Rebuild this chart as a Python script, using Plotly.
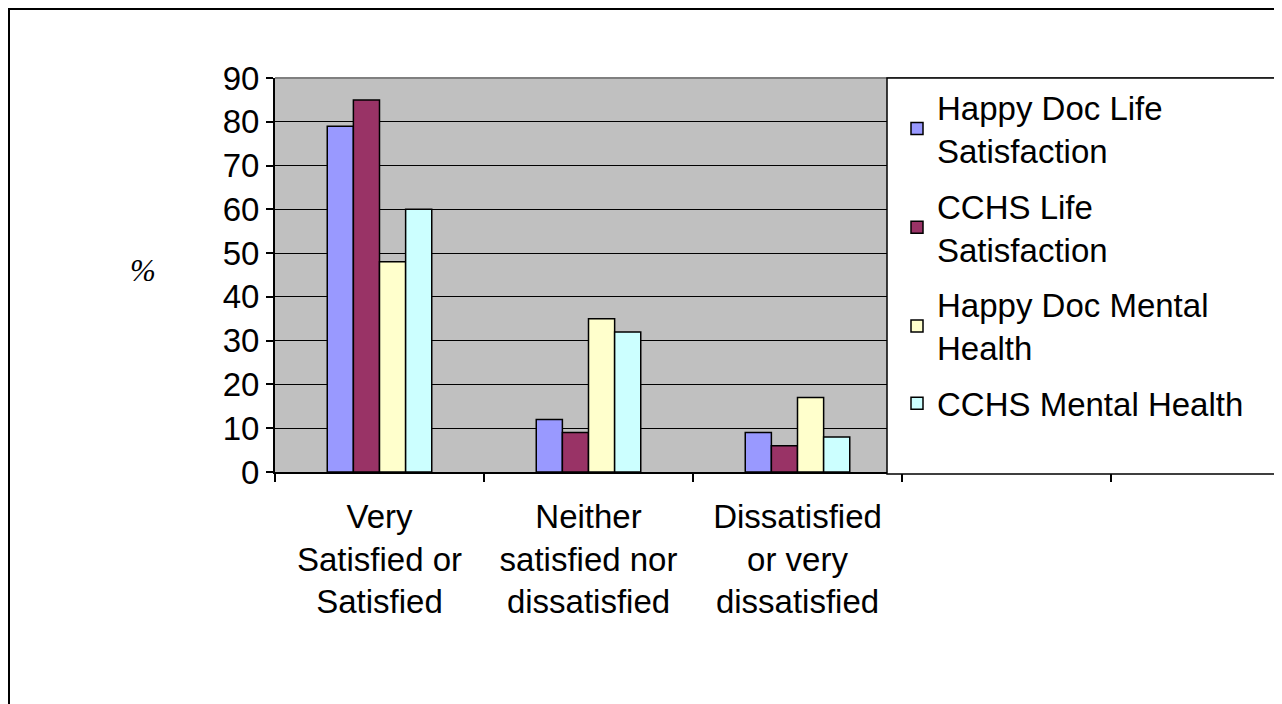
import plotly.graph_objects as go

categories = ["Very<br>Satisfied or<br>Satisfied",
              "Neither<br>satisfied nor<br>dissatisfied",
              "Dissatisfied<br>or very<br>dissatisfied"]
empty_slots = [" ", "  "]
series_names = ["Happy Doc Life<br>Satisfaction",
                "CCHS Life<br>Satisfaction",
                "Happy Doc Mental<br>Health",
                "CCHS Mental Health"]
series_values = [
    [79, 12, 9],
    [85, 9, 6],
    [48, 35, 17],
    [60, 32, 8],
]
series_colors = ["#9999FF", "#993366", "#FFFFCC", "#CCFFFF"]
y_ticks = [0, 10, 20, 30, 40, 50, 60, 70, 80, 90]

# page is offset by the 8px body margin
OFF = 8
W, H = 1274, 696
L, R, T, B = 267, 0, 70, 232
pw = W - L - R
ph = H - T - B


def px2x(px):
    return (px - OFF - L) / pw


def px2y(py):
    return (H - B - (py - OFF)) / ph


FONT = "Arial, Liberation Sans, sans-serif"

fig = go.Figure()
for i, (name, vals, col) in enumerate(zip(series_names, series_values, series_colors)):
    fig.add_trace(go.Bar(x=categories, y=vals, name=name, legendgroup=f"g{i}",
                         marker=dict(color=col, line=dict(color="black", width=1.5))))

fig.update_layout(
    width=W, height=H,
    margin=dict(l=L, r=R, t=T, b=B),
    paper_bgcolor="white",
    plot_bgcolor="#C0C0C0",
    barmode="group", bargap=0.5, bargroupgap=0,
    font=dict(family=FONT, size=33, color="black"),
    showlegend=True,
    legend=dict(x=px2x(897), y=px2y(79), xanchor="left", yanchor="top",
                bgcolor="rgba(0,0,0,0)", borderwidth=0,
                font=dict(family=FONT, size=33, color="black"),
                traceorder="grouped", tracegroupgap=10),
)

fig.update_xaxes(
    type="category", categoryorder="array",
    categoryarray=categories + empty_slots,
    range=[-0.5, -0.5 + pw / 209],
    tickson="boundaries", ticks="outside", ticklen=8, tickwidth=2, tickcolor="black",
    showline=True, linecolor="black", linewidth=2,
    showgrid=False, zeroline=False,
    tickfont=dict(family=FONT, size=33, color="black"),
    ticklabelstandoff=14,
)
fig.update_yaxes(
    range=[0, 90], tickvals=y_ticks,
    ticks="outside", ticklen=7, tickwidth=2, tickcolor="black",
    showline=True, linecolor="black", linewidth=2,
    showgrid=True, gridcolor="black", gridwidth=1.2,
    zeroline=False,
    tickfont=dict(family=FONT, size=33, color="black"),
)

# plot-area top border
fig.add_shape(type="line", xref="paper", yref="paper", x0=0, x1=1, y0=1, y1=1,
              line=dict(color="#808080", width=2), layer="above")
# legend box
fig.add_shape(type="rect", xref="paper", yref="paper",
              x0=px2x(887), x1=px2x(1300), y0=px2y(474), y1=px2y(78),
              fillcolor="white", line=dict(color="black", width=1.5), layer="above")
# outer chart border
fig.add_shape(type="rect", xref="paper", yref="paper",
              x0=px2x(OFF + 1), x1=px2x(1320), y0=px2y(760), y1=px2y(OFF + 1),
              fillcolor="rgba(0,0,0,0)", line=dict(color="black", width=2), layer="above")

# y-axis title "%"
fig.add_annotation(text="%", xref="paper", yref="paper", x=px2x(143), y=px2y(270),
                   showarrow=False, xanchor="center", yanchor="middle",
                   font=dict(family="Liberation Serif, Times New Roman, serif", size=31,
                             color="black", style="italic"))

fig.write_html("out.html")
